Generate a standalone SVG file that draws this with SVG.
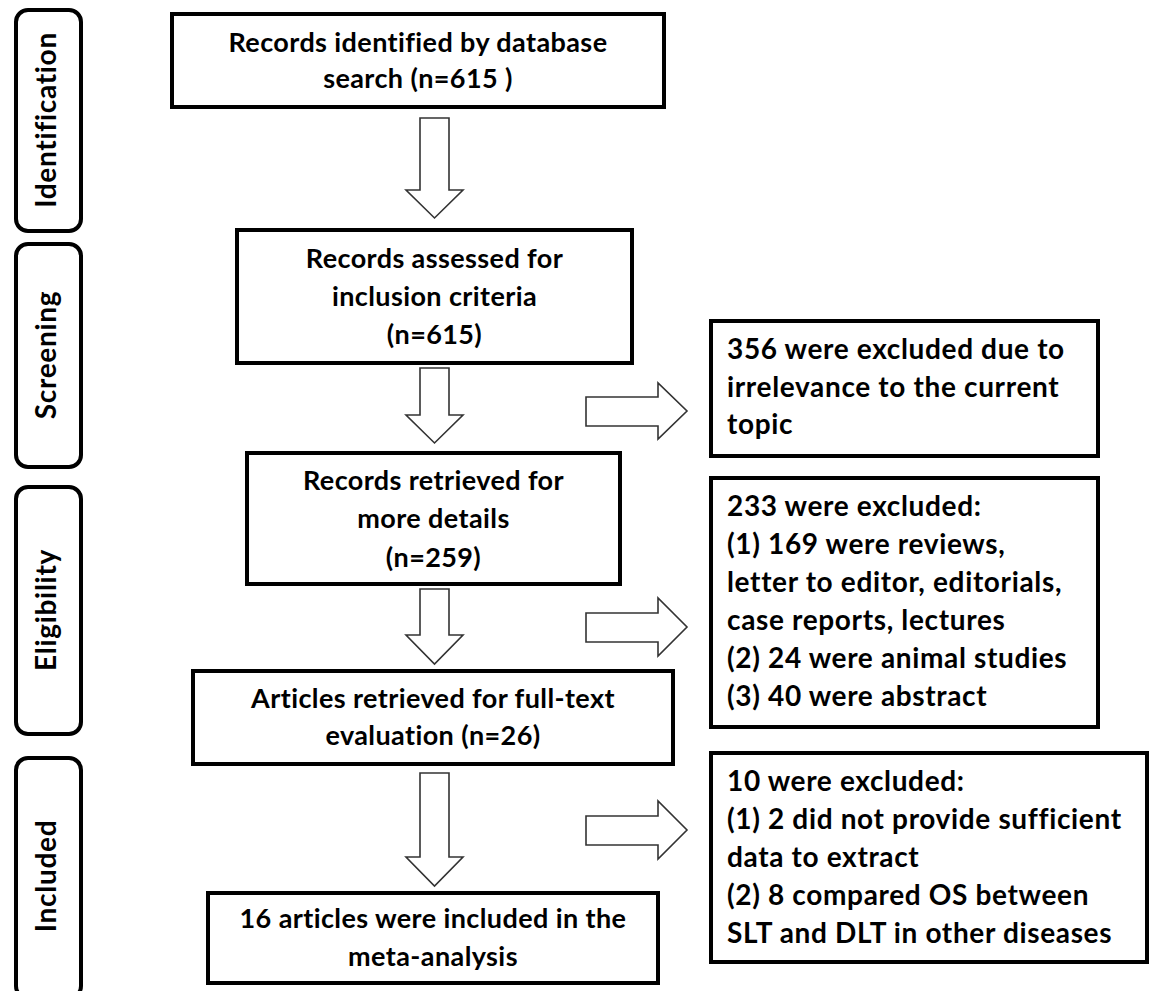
<svg xmlns="http://www.w3.org/2000/svg" width="1152" height="991" viewBox="0 0 1152 991">
<style>
.box{fill:#fff;stroke:#000;stroke-width:4}
.stage{fill:#fff;stroke:#000;stroke-width:4}
.arr{fill:#fff;stroke:#333;stroke-width:1.6;stroke-linejoin:miter}
text{font-family:Lato,"Liberation Sans",sans-serif;font-weight:bold;font-size:27px;letter-spacing:0.4px;fill:#000}
.c{text-anchor:middle}
.r{font-size:28px;letter-spacing:0.65px}
.st{font-size:28px;letter-spacing:0.7px;text-anchor:middle}
</style>
<rect width="1152" height="991" fill="#fff"/>
<g id="stage-identification"><rect class="stage" x="16" y="10" width="65" height="221" rx="12"/><text class="st" transform="translate(56,120) rotate(-90)">Identification</text></g>
<g id="stage-screening"><rect class="stage" x="16" y="244" width="65" height="223" rx="12"/><text class="st" transform="translate(56,355) rotate(-90)">Screening</text></g>
<g id="stage-eligibility"><rect class="stage" x="16" y="487" width="65" height="247" rx="12"/><text class="st" transform="translate(56,610) rotate(-90)">Eligibility</text></g>
<g id="stage-included"><rect class="stage" x="16" y="758" width="65" height="240" rx="12"/><text class="st" transform="translate(56,876) rotate(-90)">Included</text></g>
<g id="connectors">
<polygon class="arr" points="420,118 449,118 449,190 463,190 434.5,218 406,190 420,190"/>
<polygon class="arr" points="420,368 449,368 449,415 463,415 434.5,443 406,415 420,415"/>
<polygon class="arr" points="420,589 449,589 449,635 463,635 434.5,664 406,635 420,635"/>
<polygon class="arr" points="420,773 449,773 449,857 463,857 434.5,886 406,857 420,857"/>
<polygon class="arr" points="586,397 658,397 658,383 687,411 658,439 658,426 586,426"/>
<polygon class="arr" points="586,613 658,613 658,598 687,627 658,656 658,642 586,642"/>
<polygon class="arr" points="586,816 658,816 658,801 687,830 658,859 658,845 586,845"/>
</g>
<g id="node-identified"><rect class="box" x="172" y="14" width="492" height="93"/><text class="c" x="418" y="52">Records identified by database</text><text class="c" x="418" y="88">search (n=615 )</text></g>
<g id="node-assessed"><rect class="box" x="237" y="230" width="395" height="133"/><text class="c" x="434.5" y="268">Records assessed for</text><text class="c" x="434.5" y="306">inclusion criteria</text><text class="c" x="434.5" y="344">(n=615)</text></g>
<g id="node-retrieved"><rect class="box" x="247" y="453" width="373" height="131"/><text class="c" x="433.5" y="490">Records retrieved for</text><text class="c" x="433.5" y="528">more details</text><text class="c" x="433.5" y="567">(n=259)</text></g>
<g id="node-fulltext"><rect class="box" x="193" y="671" width="480" height="93"/><text class="c" x="433" y="708">Articles retrieved for full-text</text><text class="c" x="433" y="745">evaluation (n=26)</text></g>
<g id="node-included"><rect class="box" x="208" y="893" width="450" height="90"/><text class="c" x="433" y="928">16 articles were included in the</text><text class="c" x="433" y="966">meta-analysis</text></g>
<g id="node-excl1"><rect class="box" x="711" y="321" width="387" height="135"/><text class="r" x="727" y="359">356 were excluded due to</text><text class="r" x="727" y="397">irrelevance to the current</text><text class="r" x="727" y="434">topic</text></g>
<g id="node-excl2"><rect class="box" x="711" y="478" width="387" height="249"/><text class="r" x="727" y="516">233 were excluded:</text><text class="r" x="727" y="554">(1) 169 were reviews,</text><text class="r" x="727" y="592">letter to editor, editorials,</text><text class="r" x="727" y="630">case reports, lectures</text><text class="r" x="727" y="668">(2) 24 were animal studies</text><text class="r" x="727" y="706">(3) 40 were abstract</text></g>
<g id="node-excl3"><rect class="box" x="711" y="753" width="436" height="209"/><text class="r" x="727" y="791">10 were excluded:</text><text class="r" x="727" y="829">(1) 2 did not provide sufficient</text><text class="r" x="727" y="867">data to extract</text><text class="r" x="727" y="905">(2) 8 compared OS between</text><text class="r" x="727" y="943">SLT and DLT in other diseases</text></g>
</svg>
